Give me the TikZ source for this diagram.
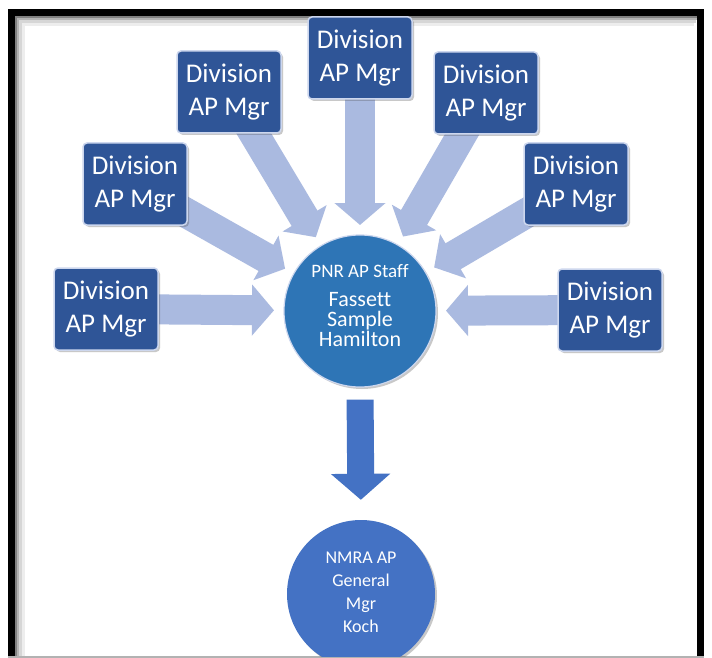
\documentclass[tikz,border=0pt]{standalone}
\usepackage{fontspec}
\setmainfont[Ligatures=NoCommon]{Carlito}
\usetikzlibrary{arrows.meta,calc,shadows,backgrounds}
\definecolor{boxblue}{RGB}{47,85,151}
\definecolor{boxedge}{RGB}{205,215,238}
\definecolor{arrowblue}{RGB}{170,186,224}
\definecolor{staffblue}{RGB}{46,117,182}
\definecolor{gmblue}{RGB}{68,114,196}
\begin{document}
\begin{tikzpicture}[x=1pt,y=-1pt,
  divbox/.style={draw=boxedge, line width=1.5pt, fill=boxblue, rounded corners=4pt,
    minimum width=104pt, minimum height=82pt, text=white, align=center, inner sep=0pt,
    font=\fontsize{27}{33}\selectfont,
    drop shadow={shadow xshift=2pt, shadow yshift=-2pt, opacity=0.3, fill=black!70}},
  bigcircle/.style={circle, draw=boxedge, line width=1.2pt, inner sep=0pt,
    drop shadow={shadow xshift=2pt, shadow yshift=-2pt, opacity=0.3, fill=black!70}},
  lightarrow/.style={draw=arrowblue, line width=30pt, -{Triangle[length=22pt, width=50pt]}},
  downarrow/.style={draw=gmblue, line width=27pt, -{Triangle[length=26pt, width=58pt]}},
  circtext/.style={text=white, align=center, inner sep=0pt}
]
\useasboundingbox (0,0) rectangle (712,658);

% frame
\foreach \d/\c in {4.5/50, 6.5/30, 9/16, 12/7}{
  \draw[black!\c, line width=2.5pt] (11.5+\d,658) -- (11.5+\d,12.5+\d) -- (700-\d*0.5,12.5+\d);
}
\draw[black, line width=7pt] (11.5,658) -- (11.5,12.5) -- (700,12.5) -- (700,658);
\draw[black!30, line width=1.5pt] (8,657) -- (704,657);

% boxes
\node[divbox] (b1) at (360,58) {Division\\AP Mgr};
\node[divbox] (b2) at (229,92) {Division\\AP Mgr};
\node[divbox] (b3) at (486,93) {Division\\AP Mgr};
\node[divbox] (b4) at (135,184) {Division\\AP Mgr};
\node[divbox] (b5) at (576,184) {Division\\AP Mgr};
\node[divbox] (b6) at (106,309) {Division\\AP Mgr};
\node[divbox] (b7) at (610,310) {Division\\AP Mgr};

% central circle
\node[bigcircle, fill=staffblue, minimum size=152pt] (c1) at (360,311) {};
\node[circtext, font=\fontsize{22}{20}\selectfont] (c1t) at (360,306)
  {{\fontsize{19}{21}\selectfont PNR AP Staff}\\[9pt]Fassett\\Sample\\Hamilton};

% bottom circle (cut by the page edge)
\begin{scope}
\clip (0,0) rectangle (712,656);
\node[circle, fill=gmblue, minimum size=148pt, inner sep=0pt,
  drop shadow={shadow xshift=2pt, shadow yshift=-2pt, opacity=0.3, fill=black!70}] (c2) at (361,594) {};
\node[circtext, font=\fontsize{18}{23}\selectfont] (c2t) at (361,592) {NMRA AP\\General\\Mgr\\Koch};
\end{scope}

% arrow tips
\foreach \i in {1,...,7}{
  \coordinate (t\i) at ($(c1.center)!86pt!(b\i.center)$);
}
\begin{pgfonlayer}{background}
\fill[white] (0,0) rectangle (712,658);
\foreach \i in {1,...,7}{
  \draw[lightarrow] (b\i.center) -- (t\i);
}
\end{pgfonlayer}

\draw[downarrow, shorten <=12pt, shorten >=20pt] (c1.south) -- (c2.north);
\end{tikzpicture}
\end{document}
